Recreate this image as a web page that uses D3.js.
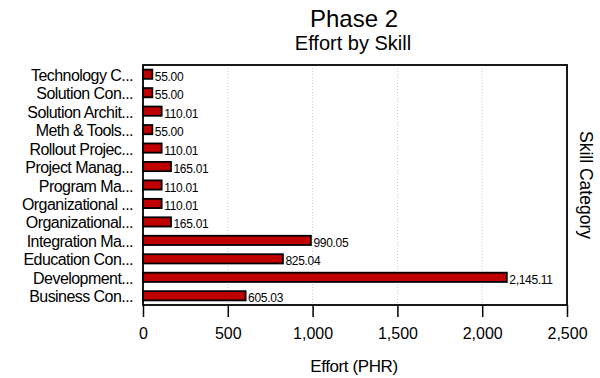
<!DOCTYPE html>
<html>
<head>
<meta charset="utf-8">
<script src="https://cdn.jsdelivr.net/npm/d3@7"></script>
<style>
  html, body { margin: 0; padding: 0; background: #fff; }
  svg { display: block; font-family: "Liberation Sans", Arial, sans-serif; }
</style>
</head>
<body>
<svg id="chart" width="600" height="378"></svg>
<script>
// Skill categories, top to bottom, as shown on the vertical axis
const categories = [
  "Technology  C...",
  "Solution Con...",
  "Solution Archit...",
  "Meth & Tools...",
  "Rollout Projec...",
  "Project Manag...",
  "Program Ma...",
  "Organizational ...",
  "Organizational...",
  "Integration Ma...",
  "Education Con...",
  "Development...",
  "Business Con..."
];

// Effort in person-hours for each category
const effort = [55.00, 55.00, 110.01, 55.00, 110.01, 165.01, 110.01, 110.01, 165.01, 990.05, 825.04, 2145.11, 605.03];

// Value axis ticks
const xTicks = [0, 500, 1000, 1500, 2000, 2500];

const titleText = "Phase 2";
const subtitleText = "Effort by Skill";
const xTitle = "Effort (PHR)";
const yTitle = "Skill Category";

const svg = d3.select("#chart");
const plot = { left: 143, right: 567, top: 65, bottom: 305 };

const x = d3.scaleLinear().domain([0, 2500]).range([plot.left, plot.right]);
const y = d3.scaleBand().domain(categories).range([plot.top, plot.bottom])
  .paddingInner(0.5).paddingOuter(0.25);

const fmt = d3.format(",.2f");
const tickFmt = d3.format(",");

// Titles
svg.append("text").attr("x", 354).attr("y", 27).attr("text-anchor", "middle")
  .attr("font-size", 24).attr("fill", "#000").text(titleText);
svg.append("text").attr("x", 353).attr("y", 50).attr("text-anchor", "middle")
  .attr("font-size", 20).attr("fill", "#000").text(subtitleText);

// Dotted vertical gridlines
svg.append("g").selectAll("line")
  .data(xTicks.filter(d => d > 0 && d < 2500))
  .join("line")
  .attr("x1", d => x(d)).attr("x2", d => x(d))
  .attr("y1", plot.top).attr("y2", plot.bottom)
  .attr("stroke", "#c8c8c8").attr("stroke-width", 1)
  .attr("stroke-dasharray", "1,2");

// Bars
svg.append("g").selectAll("rect")
  .data(categories.map((c, i) => ({ c, v: effort[i] })))
  .join("rect")
  .attr("x", x(0))
  .attr("y", d => y(d.c))
  .attr("width", d => x(d.v) - x(0))
  .attr("height", y.bandwidth())
  .attr("fill", "#c00000")
  .attr("stroke", "#000")
  .attr("stroke-width", 1.8);

// Value labels at the bar ends
svg.append("g").selectAll("text")
  .data(categories.map((c, i) => ({ c, v: effort[i] })))
  .join("text")
  .attr("x", d => x(d.v) + 2.5)
  .attr("y", d => y(d.c) + y.bandwidth() / 2 + 6.5)
  .attr("font-size", 12).attr("letter-spacing", -0.3).attr("fill", "#000")
  .text(d => fmt(d.v));

// Category labels
const yAxis = d3.axisLeft(y).tickSize(0).tickPadding(10);
const yg = svg.append("g").attr("transform", `translate(${plot.left},0)`).call(yAxis);
yg.select(".domain").remove();
yg.selectAll("text")
  .attr("font-family", "'Liberation Sans', Arial, sans-serif")
  .attr("font-size", 16).attr("letter-spacing", -0.55).attr("fill", "#000")
  .attr("dy", null).attr("y", 6.5).attr("x", -10);

// Value axis
const xAxis = d3.axisBottom(x).tickValues(xTicks).tickFormat(tickFmt)
  .tickSizeOuter(0).tickSizeInner(12).tickPadding(8);
const xg = svg.append("g").attr("transform", `translate(0,${plot.bottom})`).call(xAxis);
xg.select(".domain").remove();
xg.selectAll(".tick line").attr("stroke", "#000").attr("stroke-width", 1.5);
xg.selectAll("text")
  .attr("font-family", "'Liberation Sans', Arial, sans-serif")
  .attr("font-size", 16).attr("fill", "#000")
  .attr("dy", null).attr("y", 34);

// Plot frame
svg.append("rect")
  .attr("x", plot.left).attr("y", plot.top)
  .attr("width", plot.right - plot.left).attr("height", plot.bottom - plot.top)
  .attr("fill", "none").attr("stroke", "#000").attr("stroke-width", 1.8);

// Axis titles
svg.append("text").attr("x", 354).attr("y", 372).attr("text-anchor", "middle")
  .attr("font-size", 17).attr("letter-spacing", -0.4).attr("fill", "#000").text(xTitle);
svg.append("text")
  .attr("transform", "translate(580,185) rotate(90)")
  .attr("text-anchor", "middle")
  .attr("font-size", 17.5).attr("fill", "#000").text(yTitle);
</script>
</body>
</html>
